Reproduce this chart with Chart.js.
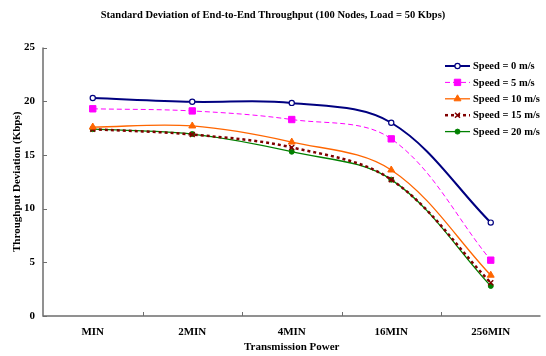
<!DOCTYPE html>
<html>
<head>
<meta charset="utf-8">
<script src="https://cdn.jsdelivr.net/npm/chart.js@4"></script>
<style>
  html, body { margin: 0; padding: 0; background: #fff; }
  #wrap { width: 546px; height: 356px; }
</style>
</head>
<body>
<div id="wrap"><canvas id="myChart" width="546" height="356"></canvas></div>
<script>
const powerLabels = ['MIN', '2MIN', '4MIN', '16MIN', '256MIN'];
const yTicks = [0, 5, 10, 15, 20, 25];

const speed0 = [20.3, 19.95, 19.85, 18.0, 8.7];
const speed5 = [19.3, 19.1, 18.3, 16.5, 5.2];
const speed10 = [17.6, 17.7, 16.2, 13.6, 3.8];
const speed15 = [17.4, 16.9, 15.7, 12.7, 3.1];
const speed20 = [17.4, 16.95, 15.3, 12.7, 2.8];

const serif = 'Liberation Serif';

function drawMarker(c, ds, px, py) {
    c.save();
    c.fillStyle = ds.pointBackgroundColor;
    c.strokeStyle = ds.pointBorderColor;
    c.lineWidth = ds.pointBorderWidth;
    Chart.helpers.drawPoint(c, {
        pointStyle: ds.pointStyle,
        radius: ds.pointRadius,
        borderWidth: ds.pointBorderWidth
    }, px, py);
    c.restore();
}

// axis lines, inner tick marks and the legend box
const excelFrame = {
    id: 'excelFrame',
    afterDatasetsDraw(chart) {
        const c = chart.ctx;
        const a = chart.chartArea;
        const x = chart.scales.x;
        const y = chart.scales.y;
        c.save();
        c.strokeStyle = '#6e6e6e';
        c.lineWidth = 1.5;
        c.beginPath();
        c.moveTo(a.left, a.top);
        c.lineTo(a.left, a.bottom);
        c.lineTo(a.right, a.bottom);
        c.stroke();
        c.lineWidth = 1;
        yTicks.forEach(v => {
            const py = Math.round(y.getPixelForValue(v)) + 0.5;
            c.beginPath();
            c.moveTo(a.left, py);
            c.lineTo(a.left + 4, py);
            c.stroke();
        });
        const w = x.getPixelForValue(1) - x.getPixelForValue(0);
        for (let i = 1; i < powerLabels.length; i++) {
            const px = Math.round(x.getPixelForValue(i) - w / 2) + 0.5;
            c.beginPath();
            c.moveTo(px, a.bottom);
            c.lineTo(px, a.bottom - 4);
            c.stroke();
        }

        // legend
        let ly = 66;
        chart.data.datasets.forEach(ds => {
            c.strokeStyle = ds.borderColor;
            c.lineWidth = ds.borderWidth;
            c.setLineDash(ds.borderDash || []);
            c.beginPath();
            c.moveTo(445, ly);
            c.lineTo(470, ly);
            c.stroke();
            c.setLineDash([]);
            drawMarker(c, ds, 457.5, ly);
            c.fillStyle = '#000';
            c.font = 'bold 10.5px "' + serif + '"';
            c.textBaseline = 'middle';
            c.fillText(ds.label, 473, ly + 0.5);
            ly += 16.4;
        });
        c.restore();
    }
};

const ctx = document.getElementById('myChart');

new Chart(ctx, {
    type: 'line',
    data: {
        labels: powerLabels,
        datasets: [
            {
                label: 'Speed = 0 m/s',
                data: speed0,
                borderColor: '#000080',
                borderWidth: 2,
                pointStyle: 'circle',
                pointRadius: 2.6,
                pointBorderWidth: 1.2,
                pointBackgroundColor: '#ffffff',
                pointBorderColor: '#000080'
            },
            {
                label: 'Speed = 5 m/s',
                data: speed5,
                borderColor: '#ff00ff',
                borderWidth: 1,
                borderDash: [5, 3],
                pointStyle: 'rect',
                pointRadius: 4.5,
                pointBorderWidth: 1,
                pointBackgroundColor: '#ff00ff',
                pointBorderColor: '#ff00ff'
            },
            {
                label: 'Speed = 10 m/s',
                data: speed10,
                borderColor: '#ff6600',
                borderWidth: 1.3,
                pointStyle: 'triangle',
                pointRadius: 4,
                pointBorderWidth: 1,
                pointBackgroundColor: '#ff6600',
                pointBorderColor: '#ff6600'
            },
            {
                label: 'Speed = 15 m/s',
                data: speed15,
                borderColor: '#800000',
                borderWidth: 2.5,
                borderDash: [3, 3],
                pointStyle: 'crossRot',
                pointRadius: 3.5,
                pointBorderWidth: 1.5,
                pointBackgroundColor: '#800000',
                pointBorderColor: '#800000'
            },
            {
                label: 'Speed = 20 m/s',
                data: speed20,
                borderColor: '#008000',
                borderWidth: 1.3,
                pointStyle: 'circle',
                pointRadius: 2.5,
                pointBorderWidth: 1,
                pointBackgroundColor: '#008000',
                pointBorderColor: '#008000'
            }
        ]
    },
    options: {
        responsive: false,
        animation: false,
        events: [],
        elements: { line: { tension: 0.35 } },
        layout: { padding: { top: 0, right: 0, bottom: 0, left: 0 } },
        scales: {
            x: {
                offset: true,
                grid: { display: false, drawTicks: false },
                border: { display: false },
                ticks: {
                    padding: 10,
                    color: '#000',
                    font: { family: serif, size: 11, weight: 'bold' }
                },
                title: {
                    display: true,
                    text: 'Transmission Power',
                    color: '#000',
                    padding: { top: 0, bottom: 2 },
                    font: { family: serif, size: 11, weight: 'bold' }
                },
                afterFit: s => { s.height = 40; }
            },
            y: {
                min: 0,
                max: 25,
                grid: { display: false, drawTicks: false },
                border: { display: false },
                ticks: {
                    stepSize: 5,
                    padding: 8,
                    color: '#000',
                    font: { family: serif, size: 11, weight: 'bold' }
                },
                title: {
                    display: true,
                    text: 'Throughput Deviation (Kbps)',
                    color: '#000',
                    padding: { top: 11, bottom: 0 },
                    font: { family: serif, size: 11, weight: 'bold' }
                },
                afterFit: s => { s.width = 43; }
            }
        },
        plugins: {
            legend: { display: false },
            tooltip: { enabled: false },
            title: {
                display: true,
                text: 'Standard Deviation of End-to-End Throughput (100 Nodes, Load = 50 Kbps)',
                color: '#000',
                padding: { top: 9, bottom: 26 },
                font: { family: serif, size: 10.5, weight: 'bold' }
            }
        }
    },
    plugins: [excelFrame]
});
</script>
</body>
</html>
